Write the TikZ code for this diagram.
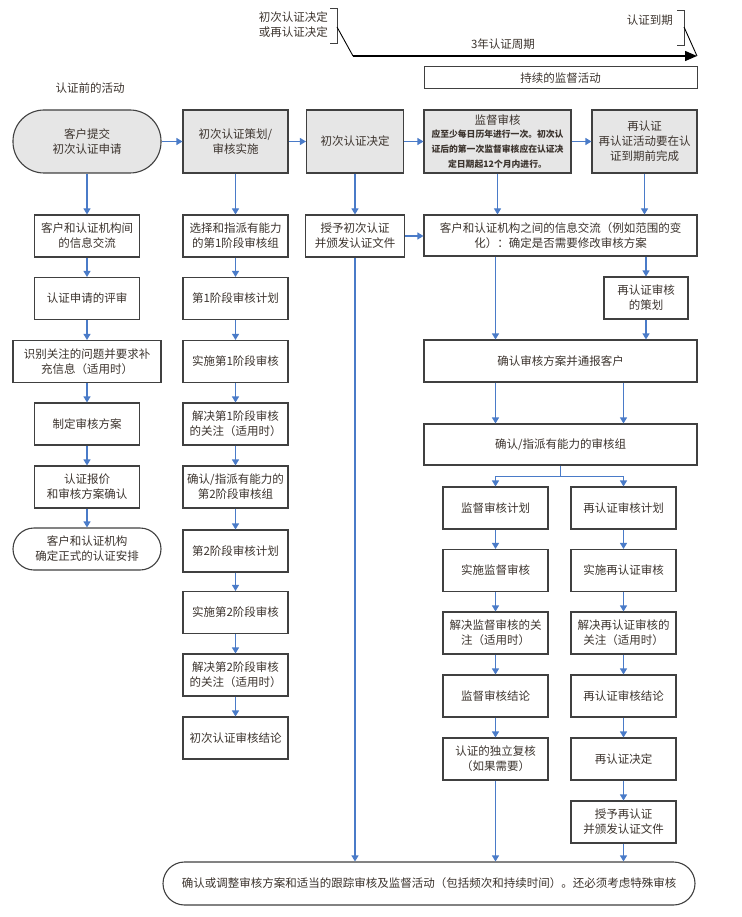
\documentclass[tikz,border=0pt]{standalone}
\usepackage{fontspec}
\newfontfamily\cjk{Noto Sans CJK SC}
\usetikzlibrary{arrows.meta}
\definecolor{flow}{HTML}{4A7BC8}
\definecolor{boxline}{HTML}{404040}
\definecolor{boxfill}{HTML}{E6E6E6}
\definecolor{txt}{HTML}{3C342E}
\newcommand{\sm}{\fontsize{8.8}{12.5}\selectfont\bfseries}

\begin{document}
\begin{tikzpicture}[x=1pt,y=-1pt,
  every node/.style={font=\cjk\fontsize{11.5}{15}\selectfont,text=txt,align=center,inner sep=1pt},
  box/.style={draw=boxline,line width=1.1pt,fill=white,minimum width=105pt,minimum height=42pt},
  hbox/.style={box,fill=boxfill,minimum height=63pt},
  arr/.style={draw=flow,line width=1.1pt,-{Triangle[width=7pt,length=6pt]}},
  brk/.style={draw=boxline,line width=0.9pt}]
\useasboundingbox (0,0) rectangle (741,917);

% time line
\node[anchor=east] (dec) at (329,25) {初次认证决定\\或再认证决定};
\draw[brk] (330,8) -- (337,8) -- (337,43) -- (330,43);
\node[anchor=east] (exp) at (674,20) {认证到期};
\draw[brk] (677,10) -- (684,10) -- (684,45) -- (677,45);
\coordinate (t0) at (353,56);
\coordinate (t1) at (697,56);
\draw[line width=0.9pt] (337,27) -- (t0);
\draw[line width=0.9pt] (684,27) -- (t1);
\draw[line width=1.4pt,-{Triangle[width=10pt,length=12pt]}] (t0) -- (t1);
\node (per) at (503,44) {3年认证周期};
\node[draw=boxline,line width=1pt,minimum width=273pt,minimum height=22pt] (ongo) at (560.5,78) {持续的监督活动};
\node (pre) at (90,88) {认证前的活动};

% column a
\node[hbox,minimum width=148pt,rounded corners=31pt] (sub) at (87,141.5) {客户提交\\初次认证申请};
\node[box] (a1) at (87,236) {客户和认证机构间\\的信息交流};
\node[box] (a2) at (87,298.5) {认证申请的评审};
\node[box,minimum width=148pt] (a3) at (87,361.5) {识别关注的问题并要求补\\充信息（适用时）};
\node[box] (a4) at (87,424) {制定审核方案};
\node[box] (a5) at (87,487) {认证报价\\和审核方案确认};
\node[box,minimum width=148pt,rounded corners=21pt] (a6) at (87,549) {客户和认证机构\\确定正式的认证安排};

% column b
\node[hbox] (b0) at (235.5,141.5) {初次认证策划/\\审核实施};
\node[box] (b1) at (235.5,236) {选择和指派有能力\\的第1阶段审核组};
\node[box] (b2) at (235.5,298.5) {第1阶段审核计划};
\node[box] (b3) at (235.5,361.5) {实施第1阶段审核};
\node[box] (b4) at (235.5,424) {解决第1阶段审核\\的关注（适用时）};
\node[box] (b5) at (235.5,487) {确认/指派有能力的\\第2阶段审核组};
\node[box] (b6) at (235.5,551) {第2阶段审核计划};
\node[box] (b7) at (235.5,612.5) {实施第2阶段审核};
\node[box] (b8) at (235.5,675) {解决第2阶段审核\\的关注（适用时）};
\node[box] (b9) at (235.5,738) {初次认证审核结论};

% column c
\node[hbox,minimum width=97pt] (c0) at (355,141.5) {初次认证决定};
\node[box,minimum width=99pt] (c1) at (355,236) {授予初次认证\\并颁发认证文件};

% right part
\node[hbox,minimum width=147pt] (d0) at (497.5,141.5) {监督审核\\[-2pt]\sm 应至少每日历年进行一次。初次认\\\sm 证后的第一次监督审核应在认证决\\\sm 定日期起12个月内进行。};
\node[hbox] (e0) at (644.5,141.5) {再认证\\再认证活动要在认\\证到期前完成};
\node[box,minimum width=273pt,minimum height=41pt] (r1) at (560.5,235.5) {客户和认证机构之间的信息交流（例如范围的变\\化）：确定是否需要修改审核方案};
\node[box,minimum width=84pt] (e1) at (646,298) {再认证审核\\的策划};
\node[box,minimum width=273pt] (r2) at (560.5,361) {确认审核方案并通报客户};
\node[box,minimum width=273pt,minimum height=41pt] (r3) at (560.5,444.5) {确认/指派有能力的审核组};

\node[box] (l1) at (495.5,508) {监督审核计划};
\node[box] (l2) at (495.5,570.5) {实施监督审核};
\node[box] (l3) at (495.5,633) {解决监督审核的关\\注（适用时）};
\node[box] (l4) at (495.5,696) {监督审核结论};
\node[box] (l5) at (495.5,759) {认证的独立复核\\（如果需要）};

\node[box] (m1) at (623.5,508) {再认证审核计划};
\node[box] (m2) at (623.5,570.5) {实施再认证审核};
\node[box] (m3) at (623.5,633) {解决再认证审核的\\关注（适用时）};
\node[box] (m4) at (623.5,696) {再认证审核结论};
\node[box] (m5) at (623.5,759) {再认证决定};
\node[box] (m6) at (623.5,822) {授予再认证\\并颁发认证文件};

\node[box,minimum width=532pt,minimum height=43pt,rounded corners=21.5pt] (fin) at (429,883.5) {确认或调整审核方案和适当的跟踪审核及监督活动（包括频次和持续时间）。还必须考虑特殊审核};

% arrows
\draw[arr] (sub) -- (b0);
\draw[arr] (b0) -- (c0);
\draw[arr] (c0) -- (d0);
\draw[arr] (d0) -- (e0);
\draw[arr] (c1.east) -- (c1.east -| r1.west);

\draw[arr] (sub) -- (a1);
\foreach \u/\v in {a1/a2,a2/a3,a3/a4,a4/a5,a5/a6,b0/b1,b1/b2,b2/b3,b3/b4,b4/b5,b5/b6,b6/b7,b7/b8,b8/b9,c0/c1,l1/l2,l2/l3,l3/l4,l4/l5,m1/m2,m2/m3,m3/m4,m4/m5,m5/m6}
  \draw[arr] (\u) -- (\v);

\draw[arr] (d0.south) -- (d0.south |- r1.north);
\draw[arr] (e0.south) -- (e0.south |- r1.north);
\draw[arr] (l1 |- r1.south) -- (l1 |- r2.north);
\draw[arr] (e1 |- r1.south) -- (e1.north);
\draw[arr] (e1.south) -- (e1 |- r2.north);
\draw[arr] (l1 |- r2.south) -- (l1 |- r3.north);
\draw[arr] (m1 |- r2.south) -- (m1 |- r3.north);
\draw[draw=flow,line width=1.1pt] (r3.south) -- ++(0,11) coordinate (sp);
\draw[arr] (sp) -| (l1.north);
\draw[arr] (sp) -| (m1.north);

\draw[arr] (c1.south) -- (c1 |- fin.north);
\draw[arr] (l5.south) -- (l5 |- fin.north);
\draw[arr] (m6.south) -- (m6 |- fin.north);
\end{tikzpicture}
\end{document}
